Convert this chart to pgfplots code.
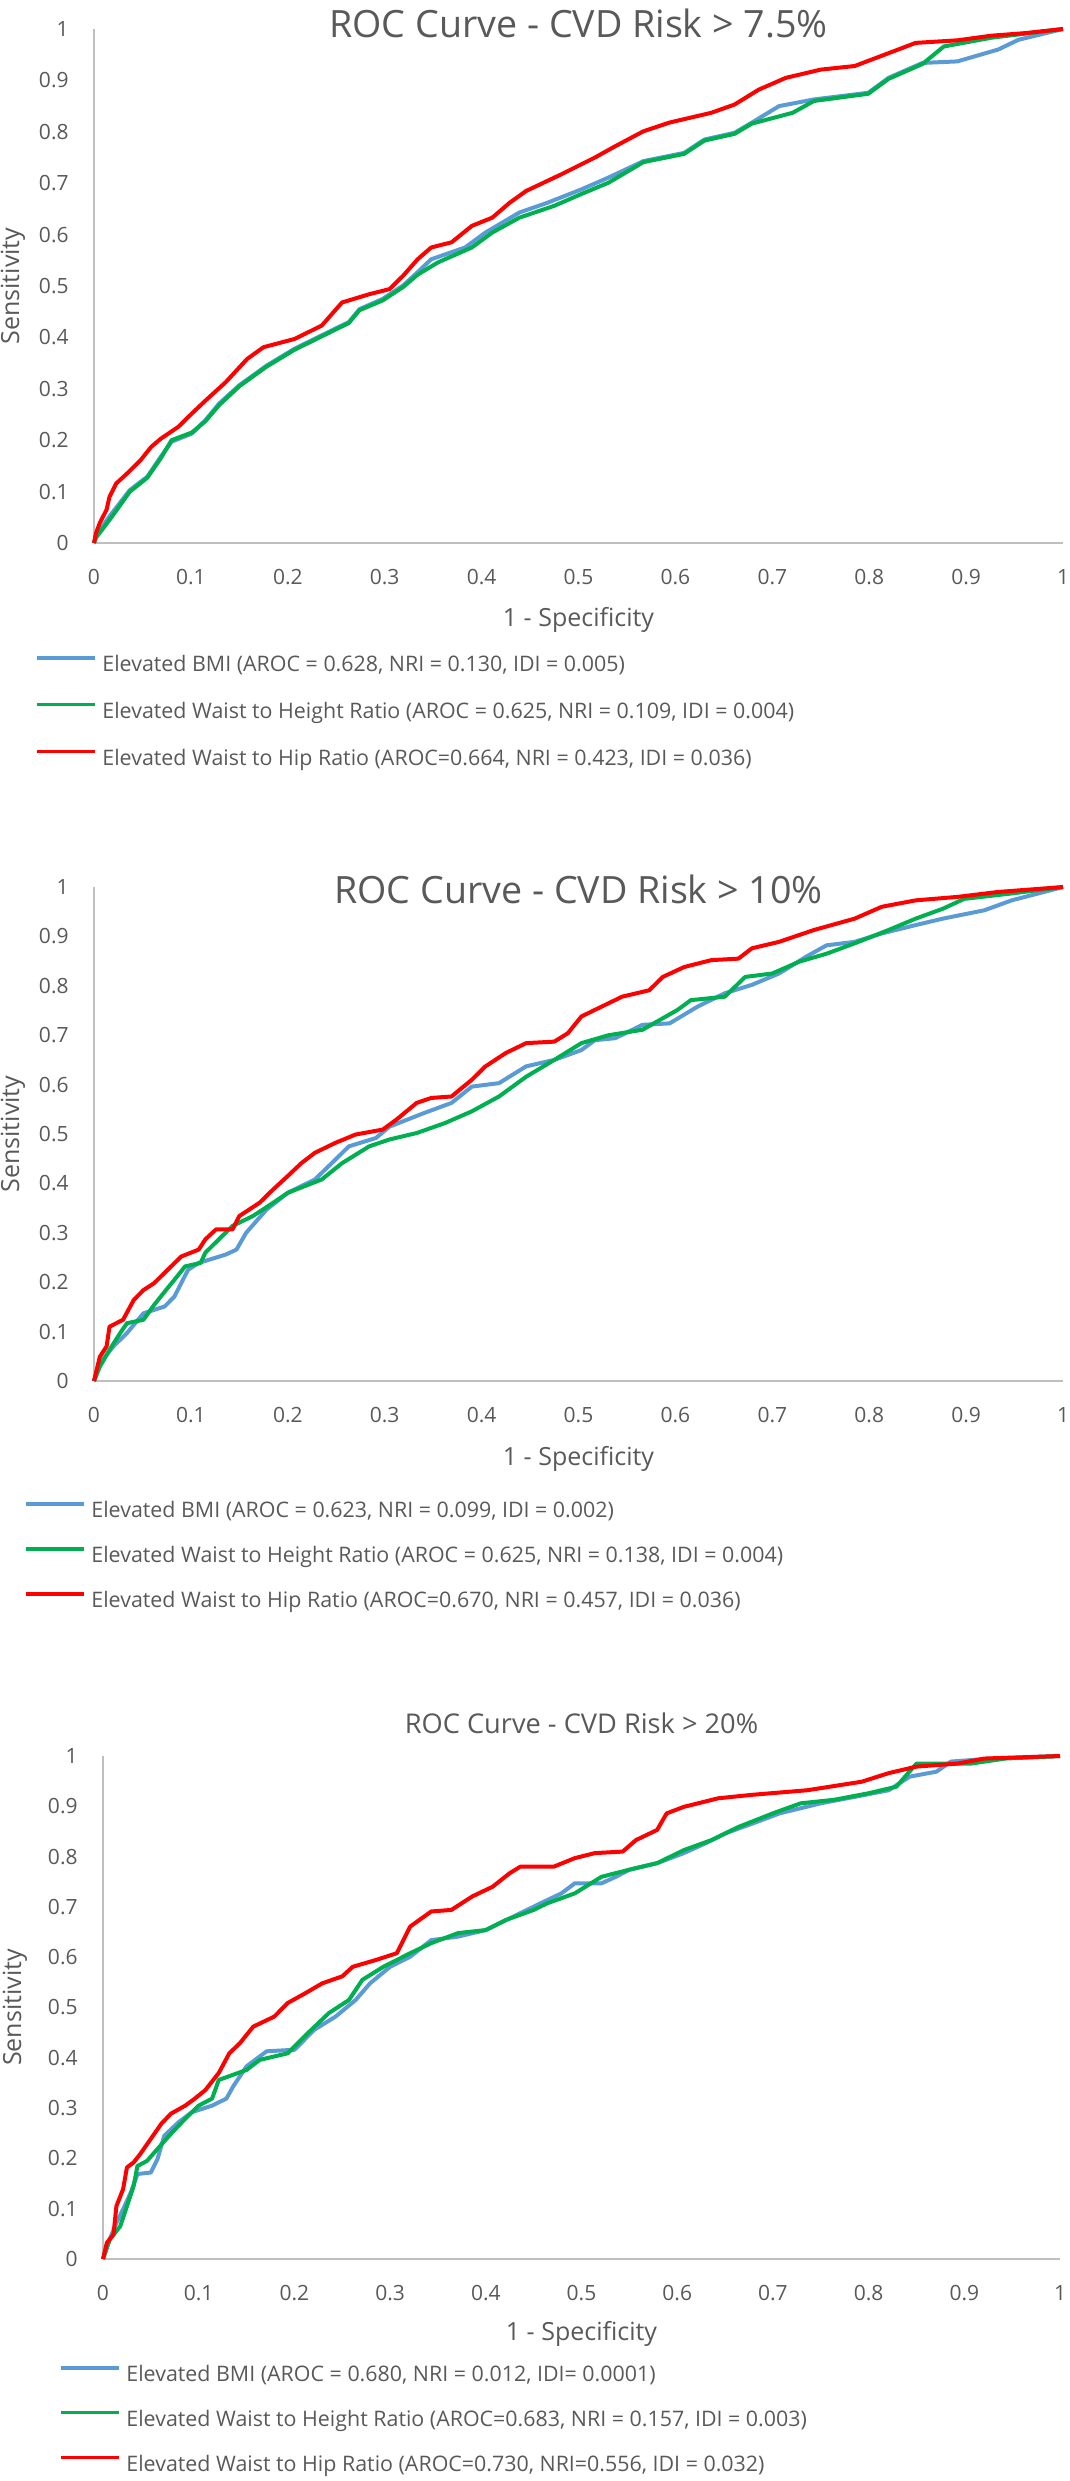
\documentclass[border=0pt]{standalone}
\usepackage{fontspec}
\setmainfont{Open Sans}
\usepackage{pgfplots}
\pgfplotsset{compat=1.18}

\definecolor{txt}{HTML}{595959}
\definecolor{axln}{HTML}{BFBFBF}
\definecolor{cbmi}{HTML}{5B9BD5}
\definecolor{cwhtr}{HTML}{00B050}
\definecolor{cwhr}{HTML}{FF0000}

\pgfplotsset{
  roc/.style={
    scale only axis,
    anchor=south west,
    xmin=0, xmax=1, ymin=0, ymax=1,
    axis x line*=bottom, axis y line*=left,
    axis line style={axln, line width=1pt, -},
    major tick length=0pt, tick style={draw=none},
    xtick={0,0.1,...,1}, ytick={0,0.1,...,1},
    xticklabels={0,0.1,0.2,0.3,0.4,0.5,0.6,0.7,0.8,0.9,1},
    yticklabels={0,0.1,0.2,0.3,0.4,0.5,0.6,0.7,0.8,0.9,1},
    ticklabel style={font=\fontsize{10.5}{12}\selectfont, text=txt},
    xticklabel style={inner sep=0pt, anchor=north, yshift=-13pt},
    yticklabel style={inner sep=0pt, anchor=east, xshift=-12.5pt},
    label style={font=\fontsize{12.5}{14}\selectfont, text=txt},
    xlabel={1 - Specificity},
    ylabel={Sensitivity},
    clip=false,
    legend cell align=left,
    legend image code/.code={\draw[##1, line width=1.7pt] (0pt,3.9pt) -- (29pt,3.9pt);},
    legend style={draw=none, fill=none, inner sep=0pt, outer sep=0pt,
      anchor=north west, column sep=3pt,
      font=\fontsize{10.7}{13}\selectfont, text=txt,
      nodes={inner sep=0pt, text height=8pt, text depth=2pt}},
  },
  sbmi/.style={color=cbmi, line width=2pt, line join=round},
  swhtr/.style={color=cwhtr, line width=2pt, line join=round},
  swhr/.style={color=cwhr, line width=2pt, line join=round},
}

\begin{document}
\begin{tikzpicture}
\useasboundingbox (0,0) rectangle (535pt,-1240.5pt);

% ---------- CVD risk > 7.5%
\begin{axis}[roc,
  at={(47pt,-271.5pt)}, width=484.5pt, height=257pt,
  title={ROC Curve - CVD Risk > 7.5\%},
  title style={font=\fontsize{18.8}{22}\selectfont, text=txt, anchor=base, yshift=-6pt,
    at={([yshift=-4pt]axis description cs:0.5,1)}},
  xlabel style={anchor=center, at={([yshift=-38.5pt]axis description cs:0.5,0)}},
  ylabel style={anchor=center, at={([xshift=-40.5pt]axis description cs:0,0.5)}},
  legend style={at={([xshift=-29.5pt,yshift=-56.3pt]axis description cs:0,0)},
    row sep=13.4pt},
]
\addplot[sbmi] coordinates {(0,0) (0.002,0.013) (0.016,0.052) (0.037,0.103) (0.055,0.129) (0.069,0.168) (0.08,0.197) (0.101,0.213) (0.115,0.239) (0.129,0.271) (0.150,0.307) (0.178,0.345) (0.207,0.378) (0.235,0.404) (0.263,0.43) (0.274,0.455) (0.298,0.475) (0.319,0.501) (0.334,0.527) (0.348,0.552) (0.383,0.575) (0.404,0.604) (0.439,0.643) (0.468,0.662) (0.503,0.688) (0.531,0.711) (0.567,0.743) (0.609,0.759) (0.630,0.785) (0.661,0.798) (0.679,0.818) (0.707,0.85) (0.743,0.863) (0.799,0.876) (0.82,0.905) (0.855,0.934) (0.891,0.937) (0.933,0.96) (0.954,0.979) (1,1)};
\addlegendentry{Elevated BMI (AROC = 0.628, NRI = 0.130, IDI = 0.005)}
\addplot[swhtr] coordinates {(0,0) (0.002,0.01) (0.018,0.05) (0.037,0.1) (0.055,0.127) (0.069,0.165) (0.08,0.2) (0.101,0.215) (0.115,0.237) (0.129,0.268) (0.150,0.305) (0.178,0.343) (0.207,0.376) (0.235,0.402) (0.263,0.428) (0.274,0.453) (0.298,0.472) (0.319,0.498) (0.334,0.522) (0.355,0.546) (0.39,0.575) (0.411,0.604) (0.439,0.633) (0.475,0.656) (0.503,0.679) (0.531,0.701) (0.567,0.741) (0.609,0.757) (0.630,0.783) (0.661,0.796) (0.679,0.816) (0.721,0.837) (0.743,0.86) (0.799,0.874) (0.82,0.903) (0.855,0.932) (0.877,0.966) (0.926,0.983) (1,1)};
\addlegendentry{Elevated Waist to Height Ratio (AROC = 0.625, NRI = 0.109, IDI = 0.004)}
\addplot[swhr] coordinates {(0,0) (0.002,0.019) (0.006,0.039) (0.013,0.065) (0.016,0.09) (0.023,0.116) (0.034,0.135) (0.048,0.161) (0.059,0.187) (0.069,0.203) (0.087,0.226) (0.101,0.252) (0.115,0.277) (0.136,0.313) (0.158,0.358) (0.175,0.381) (0.207,0.397) (0.235,0.423) (0.256,0.468) (0.284,0.484) (0.305,0.494) (0.319,0.520) (0.334,0.552) (0.348,0.575) (0.369,0.585) (0.39,0.617) (0.411,0.633) (0.429,0.662) (0.446,0.685) (0.482,0.717) (0.517,0.75) (0.538,0.772) (0.567,0.801) (0.594,0.818) (0.637,0.837) (0.661,0.853) (0.686,0.882) (0.714,0.905) (0.75,0.921) (0.785,0.928) (0.82,0.953) (0.848,0.973) (0.891,0.978) (0.926,0.987) (0.961,0.992) (1,1)};
\addlegendentry{Elevated Waist to Hip Ratio (AROC=0.664, NRI = 0.423, IDI = 0.036)}
\end{axis}

% ---------- CVD risk > 10%
\begin{axis}[roc,
  at={(47pt,-690.5pt)}, width=484.5pt, height=247pt,
  title={ROC Curve - CVD Risk > 10\%},
  title style={font=\fontsize{18.8}{22}\selectfont, text=txt, anchor=base, yshift=-6pt,
    at={([yshift=-8pt]axis description cs:0.5,1)}},
  xlabel style={anchor=center, at={([yshift=-39pt]axis description cs:0.5,0)}},
  ylabel style={anchor=center, at={([xshift=-40.5pt]axis description cs:0,0.5)}},
  legend style={at={([xshift=-35pt,yshift=-60.4pt]axis description cs:0,0)},
    row sep=12.5pt},
]
\addplot[sbmi] coordinates {(0,0) (0.006,0.036) (0.02,0.07) (0.034,0.097) (0.051,0.137) (0.073,0.151) (0.083,0.171) (0.09,0.198) (0.097,0.225) (0.108,0.239) (0.136,0.256) (0.147,0.266) (0.157,0.3) (0.178,0.347) (0.2,0.381) (0.228,0.408) (0.249,0.448) (0.263,0.475) (0.291,0.492) (0.305,0.515) (0.34,0.542) (0.369,0.563) (0.39,0.596) (0.418,0.603) (0.446,0.637) (0.475,0.65) (0.503,0.67) (0.517,0.69) (0.538,0.694) (0.566,0.721) (0.594,0.724) (0.623,0.758) (0.651,0.785) (0.679,0.802) (0.707,0.825) (0.735,0.859) (0.756,0.882) (0.785,0.889) (0.813,0.906) (0.848,0.923) (0.876,0.936) (0.919,0.953) (0.947,0.973) (1,1)};
\addlegendentry{Elevated BMI (AROC = 0.623, NRI = 0.099, IDI = 0.002)}
\addplot[swhtr] coordinates {(0,0) (0.006,0.029) (0.016,0.063) (0.027,0.097) (0.034,0.117) (0.051,0.124) (0.062,0.154) (0.073,0.181) (0.083,0.205) (0.094,0.232) (0.110,0.239) (0.115,0.26) (0.143,0.314) (0.164,0.334) (0.185,0.361) (0.2,0.381) (0.235,0.408) (0.256,0.441) (0.284,0.475) (0.305,0.489) (0.333,0.502) (0.362,0.522) (0.39,0.546) (0.418,0.576) (0.446,0.616) (0.475,0.65) (0.503,0.684) (0.531,0.7) (0.566,0.711) (0.602,0.751) (0.616,0.771) (0.651,0.778) (0.672,0.818) (0.7,0.825) (0.728,0.849) (0.756,0.865) (0.785,0.886) (0.82,0.913) (0.848,0.936) (0.876,0.956) (0.898,0.976) (0.947,0.987) (1,1)};
\addlegendentry{Elevated Waist to Height Ratio (AROC = 0.625, NRI = 0.138, IDI = 0.004)}
\addplot[swhr] coordinates {(0,0) (0.006,0.049) (0.013,0.07) (0.016,0.11) (0.03,0.124) (0.041,0.164) (0.051,0.184) (0.062,0.198) (0.076,0.225) (0.09,0.252) (0.108,0.266) (0.115,0.287) (0.126,0.307) (0.143,0.307) (0.150,0.334) (0.171,0.361) (0.185,0.388) (0.2,0.415) (0.214,0.441) (0.228,0.462) (0.249,0.482) (0.270,0.499) (0.298,0.509) (0.312,0.529) (0.333,0.563) (0.348,0.573) (0.369,0.576) (0.39,0.61) (0.404,0.637) (0.425,0.664) (0.446,0.684) (0.475,0.687) (0.489,0.704) (0.503,0.738) (0.524,0.758) (0.545,0.778) (0.573,0.791) (0.587,0.818) (0.609,0.838) (0.637,0.852) (0.665,0.855) (0.679,0.876) (0.707,0.889) (0.743,0.913) (0.785,0.936) (0.813,0.96) (0.848,0.973) (0.891,0.98) (0.933,0.99) (1,1)};
\addlegendentry{Elevated Waist to Hip Ratio (AROC=0.670, NRI = 0.457, IDI = 0.036)}
\end{axis}

% ---------- CVD risk > 20%
\begin{axis}[roc,
  at={(51.5pt,-1129.5pt)}, width=478.5pt, height=251.5pt,
  title={ROC Curve - CVD Risk > 20\%},
  title style={font=\fontsize{13.6}{16}\selectfont, text=txt, anchor=base, yshift=-6pt,
    at={([yshift=11.3pt]axis description cs:0.5,1)}},
  xlabel style={anchor=center, at={([yshift=-37.5pt]axis description cs:0.5,0)}},
  ylabel style={anchor=center, at={([xshift=-44pt]axis description cs:0,0.5)}},
  legend style={at={([xshift=-22pt,yshift=-53.4pt]axis description cs:0,0)},
    row sep=12.3pt},
]
\addplot[sbmi] coordinates {(0,0) (0.007,0.039) (0.014,0.072) (0.021,0.099) (0.029,0.132) (0.036,0.169) (0.05,0.172) (0.057,0.199) (0.064,0.245) (0.079,0.272) (0.093,0.292) (0.114,0.305) (0.129,0.319) (0.136,0.343) (0.15,0.383) (0.171,0.413) (0.2,0.416) (0.221,0.456) (0.243,0.482) (0.264,0.515) (0.279,0.548) (0.3,0.581) (0.321,0.601) (0.343,0.634) (0.371,0.641) (0.4,0.654) (0.429,0.681) (0.457,0.707) (0.479,0.727) (0.493,0.747) (0.521,0.747) (0.536,0.76) (0.55,0.774) (0.579,0.787) (0.607,0.807) (0.629,0.826) (0.65,0.846) (0.679,0.866) (0.707,0.886) (0.75,0.906) (0.786,0.919) (0.821,0.932) (0.843,0.959) (0.871,0.969) (0.886,0.989) (0.929,0.995) (1,1)};
\addlegendentry{Elevated BMI (AROC = 0.680, NRI = 0.012, IDI= 0.0001)}
\addplot[swhtr] coordinates {(0,0) (0.007,0.039) (0.018,0.065) (0.025,0.105) (0.032,0.145) (0.036,0.185) (0.046,0.195) (0.057,0.219) (0.071,0.249) (0.086,0.279) (0.1,0.305) (0.114,0.319) (0.121,0.356) (0.15,0.376) (0.164,0.396) (0.193,0.409) (0.214,0.449) (0.236,0.489) (0.257,0.515) (0.271,0.555) (0.293,0.581) (0.321,0.608) (0.343,0.628) (0.371,0.648) (0.4,0.654) (0.421,0.674) (0.45,0.694) (0.464,0.707) (0.493,0.727) (0.521,0.76) (0.55,0.774) (0.579,0.787) (0.607,0.813) (0.636,0.833) (0.664,0.859) (0.7,0.886) (0.729,0.906) (0.764,0.913) (0.8,0.926) (0.829,0.939) (0.85,0.985) (0.907,0.985) (0.943,0.995) (1,1)};
\addlegendentry{Elevated Waist to Height Ratio (AROC=0.683, NRI = 0.157, IDI = 0.003)}
\addplot[swhr] coordinates {(0,0) (0.004,0.032) (0.011,0.049) (0.014,0.105) (0.021,0.139) (0.025,0.182) (0.032,0.192) (0.039,0.209) (0.05,0.239) (0.061,0.269) (0.071,0.289) (0.086,0.305) (0.096,0.319) (0.107,0.336) (0.121,0.370) (0.132,0.409) (0.143,0.429) (0.157,0.462) (0.179,0.482) (0.193,0.509) (0.211,0.528) (0.229,0.548) (0.25,0.562) (0.261,0.581) (0.286,0.595) (0.307,0.608) (0.321,0.661) (0.343,0.691) (0.364,0.694) (0.386,0.721) (0.407,0.74) (0.425,0.767) (0.436,0.78) (0.471,0.78) (0.493,0.797) (0.514,0.807) (0.543,0.81) (0.557,0.833) (0.579,0.853) (0.589,0.886) (0.607,0.899) (0.643,0.916) (0.679,0.923) (0.736,0.932) (0.793,0.949) (0.821,0.966) (0.85,0.979) (0.893,0.985) (0.921,0.995) (1,1)};
\addlegendentry{Elevated Waist to Hip Ratio (AROC=0.730, NRI=0.556, IDI = 0.032)}
\end{axis}
\end{tikzpicture}
\end{document}
